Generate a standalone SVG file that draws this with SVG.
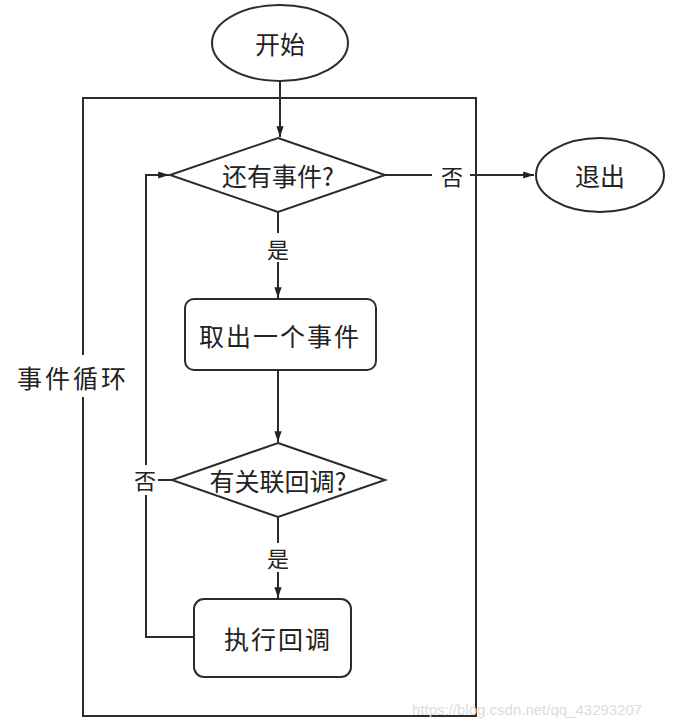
<svg xmlns="http://www.w3.org/2000/svg" width="677" height="728" viewBox="0 0 677 728">
<style>
.s{fill:none;stroke:#2b2b2b;stroke-width:2}
.n{fill:#fff;stroke:#2b2b2b;stroke-width:2}
.t{font-family:"Noto Sans CJK SC","Noto Sans",sans-serif;font-size:25px;fill:#222;text-anchor:middle;dominant-baseline:central}
.l{font-family:"Noto Sans CJK SC","Noto Sans",sans-serif;font-size:22px;fill:#222;text-anchor:middle;dominant-baseline:central}
.w{font-family:"Liberation Sans",Arial,sans-serif;font-size:15px;fill:#dcdcdc}
</style>
<defs>
<marker id="ah" viewBox="0 0 12 10" refX="12" refY="5" markerWidth="12" markerHeight="9" markerUnits="userSpaceOnUse" orient="auto">
<path d="M0,1 L12,5 L0,9 Z" fill="#222"/>
</marker>
</defs>
<rect width="677" height="728" fill="#fff"/>
<g id="loop">
<path class="s" d="M83,355 V98 H476 V716 H83 V397"/>
<text class="t" x="73" y="377" style="letter-spacing:3px">事件循环</text>
</g>
<g id="connectors">
<path class="s" d="M280,81 V137" marker-end="url(#ah)"/>
<path class="s" d="M385,175 H432"/>
<path class="s" d="M470,175 H534" marker-end="url(#ah)"/>
<text class="l" x="452" y="175">否</text>
<path class="s" d="M278,212 V233"/>
<path class="s" d="M278,262 V298" marker-end="url(#ah)"/>
<text class="l" x="278" y="248">是</text>
<path class="s" d="M278,370 V442" marker-end="url(#ah)"/>
<path class="s" d="M278,517 V543"/>
<path class="s" d="M278,572 V598" marker-end="url(#ah)"/>
<text class="l" x="278" y="557">是</text>
<path class="s" d="M172,480 H158"/>
<text class="l" x="145" y="479">否</text>
<path class="s" d="M146,495 V637 H194"/>
<path class="s" d="M146,465 V175 H169" marker-end="url(#ah)"/>
</g>
<g id="start">
<ellipse class="n" cx="280" cy="43" rx="68" ry="38"/>
<text class="t" x="280" y="43">开始</text>
</g>
<g id="hasEvent">
<polygon class="n" points="278,138 385,175 278,212 170,175"/>
<text class="t" x="278" y="175">还有事件?</text>
</g>
<g id="exit">
<ellipse class="n" cx="600" cy="175" rx="64" ry="37"/>
<text class="t" x="600" y="175">退出</text>
</g>
<g id="takeEvent">
<rect class="n" x="185" y="299" width="191" height="71" rx="9"/>
<text class="t" x="280" y="335" style="letter-spacing:2px">取出一个事件</text>
</g>
<g id="hasCallback">
<polygon class="n" points="278,443 385,480 278,517 172,480"/>
<text class="t" x="278" y="480">有关联回调?</text>
</g>
<g id="runCallback">
<rect class="n" x="194" y="599" width="157" height="78" rx="10"/>
<text class="t" x="278" y="638" style="letter-spacing:2px">执行回调</text>
</g>
<text class="w" x="412" y="715">https://blog.csdn.net/qq_43293207</text>
</svg>
